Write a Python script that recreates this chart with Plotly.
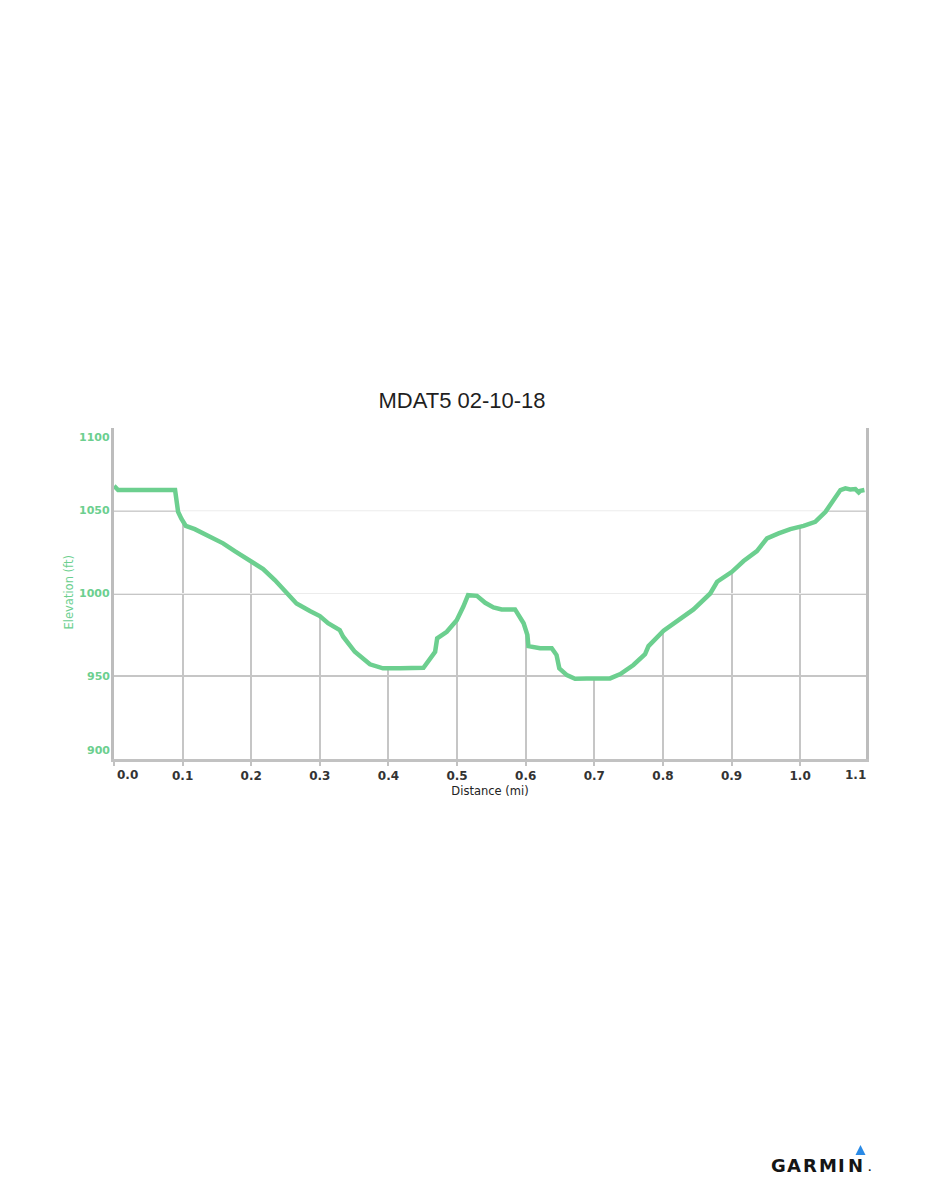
import plotly.graph_objects as go

# ---- data ----
DIST_MI = [0.000, 0.006, 0.089, 0.091, 0.0934, 0.098, 0.1046, 0.1177, 0.1396, 0.159,
           0.176, 0.2004, 0.2174, 0.2344, 0.2515, 0.266, 0.2855, 0.300, 0.312, 0.329,
           0.334, 0.351, 0.373, 0.392, 0.417, 0.451, 0.468, 0.471, 0.485, 0.4995,
           0.509, 0.516, 0.529, 0.541, 0.553, 0.565, 0.5845, 0.597, 0.6025, 0.604,
           0.621, 0.638, 0.645, 0.649, 0.660, 0.672, 0.689, 0.723, 0.738, 0.757,
           0.774, 0.779, 0.801, 0.828, 0.8446, 0.869, 0.879, 0.9006, 0.9176, 0.937,
           0.9517, 0.9686, 0.9857, 1.005, 1.022, 1.037, 1.049, 1.0587, 1.066, 1.073,
           1.0805, 1.0854, 1.0878, 1.0937]
ELEV_FT = [1065.0, 1062.5, 1062.5, 1057.4, 1049.4, 1045.4, 1040.9, 1038.9, 1034.3, 1030.3,
           1025.6, 1019.6, 1014.8, 1008.1, 1000.1, 994.0, 989.4, 986.4, 982.0, 977.9,
           973.9, 964.8, 957.2, 954.8, 954.8, 955.1, 964.8, 972.9, 976.9, 983.9,
           992.0, 999.0, 998.6, 994.4, 991.6, 990.4, 990.4, 982.0, 974.9, 968.2,
           966.9, 966.9, 962.8, 954.8, 950.7, 948.5, 948.7, 948.7, 951.3, 956.8,
           963.4, 968.2, 977.5, 985.0, 990.4, 1000.0, 1007.1, 1013.1, 1019.6, 1025.6,
           1033.3, 1036.3, 1038.9, 1040.9, 1043.3, 1049.4, 1056.4, 1062.5, 1063.5, 1062.9,
           1063.1, 1061.1, 1062.0, 1062.5]

TITLE = "MDAT5 02-10-18"
X_TITLE = "Distance (mi)"
Y_TITLE = "Elevation (ft)"
X_RANGE = [0, 1.096]
Y_RANGE = [900, 1100]
X_TICKS = [0.0, 0.1, 0.2, 0.3, 0.4, 0.5, 0.6, 0.7, 0.8, 0.9, 1.0]
X_TICK_TEXT = ["", "0.1", "0.2", "0.3", "0.4", "0.5", "0.6", "0.7", "0.8", "0.9", "1.0"]
Y_GRID = [950, 1000, 1050]
Y_LABELS = [900, 950, 1000, 1050, 1100]
FAINT_GRID_Y = [1000, 1050]

GREEN = "#6ccf8f"
GRID = "#c6c6c6"
FAINT = "#ececec"
TICK_FONT_X = dict(family="DejaVu Sans", size=12, color="#333333", weight="bold")
TICK_FONT_Y = dict(family="DejaVu Sans", size=11, color=GREEN, weight="bold")

fig = go.Figure()

# white mask above the profile (hides the grid above the curve)
fig.add_trace(go.Scatter(x=DIST_MI, y=[Y_RANGE[1]] * len(DIST_MI), mode="lines",
                         line=dict(width=0, color="white"), hoverinfo="skip"))
fig.add_trace(go.Scatter(x=DIST_MI, y=ELEV_FT, mode="lines", fill="tonexty",
                         fillcolor="white", line=dict(width=0, color="white"),
                         hoverinfo="skip"))

# faint horizontal grid over the masked area
gx, gy = [], []
for v in FAINT_GRID_Y:
    gx += [X_RANGE[0], X_RANGE[1], None]
    gy += [v, v, None]
fig.add_trace(go.Scatter(x=gx, y=gy, mode="lines", line=dict(width=1, color=FAINT),
                         hoverinfo="skip"))

# elevation profile
fig.add_trace(go.Scatter(x=DIST_MI, y=ELEV_FT, mode="lines",
                         line=dict(width=4.5, color=GREEN), hoverinfo="skip"))

W, H = 926, 1200
ML, MR, MT, MB = 114, 60, 428, 441
PW, PH = W - ML - MR, H - MT - MB


def px2paper(px, py):
    return (px - ML) / PW, (H - MB - py) / PH


fig.update_layout(
    width=W, height=H,
    margin=dict(l=ML, r=MR, t=MT, b=MB),
    paper_bgcolor="white", plot_bgcolor="white",
    showlegend=False,
    title=dict(text=TITLE, x=462 / W, xref="container", xanchor="center",
               y=1 - 400 / H, yref="container", yanchor="middle",
               font=dict(family="Liberation Sans", size=22, color="#1f1f1f")),
    xaxis=dict(range=X_RANGE, tickvals=X_TICKS, ticktext=X_TICK_TEXT,
               showgrid=True, gridcolor=GRID, gridwidth=1.5, zeroline=False,
               showline=True, linecolor="#c2c2c2", linewidth=3,
               ticks="outside", ticklen=4, tickcolor="#c2c2c2", tickwidth=1.5,
               tickfont=TICK_FONT_X,
               title=dict(text=X_TITLE, standoff=5,
                          font=dict(family="DejaVu Sans", size=11.5, color="#222222")),
               fixedrange=True),
    yaxis=dict(range=Y_RANGE, tickvals=Y_GRID, showticklabels=False,
               showgrid=True, gridcolor=GRID, gridwidth=1.5, zeroline=False,
               showline=True, mirror=True, linecolor="#bdbdbd", linewidth=2.5,
               ticks="", fixedrange=True),
)

ann = []
# y-axis title
px, py = px2paper(68.5, 593)
ann.append(dict(text=Y_TITLE, x=px, y=py, xref="paper", yref="paper", textangle=-90,
                xanchor="center", yanchor="middle", showarrow=False,
                font=dict(family="DejaVu Sans", size=11.5, color=GREEN)))
# edge x tick labels pulled inside like the original
ann.append(dict(text="0.0", x=X_RANGE[0], xref="x", xanchor="left", xshift=1,
                y=0, yref="paper", yanchor="middle", yshift=-16, showarrow=False,
                font=TICK_FONT_X))
ann.append(dict(text="1.1", x=X_RANGE[1], xref="x", xanchor="right", xshift=2,
                y=0, yref="paper", yanchor="middle", yshift=-16, showarrow=False,
                font=TICK_FONT_X))
# y tick labels (end labels pulled inside)
for v in Y_LABELS:
    if v == Y_RANGE[1]:
        anchor, shift = "top", -1
    elif v == Y_RANGE[0]:
        anchor, shift = "bottom", 0
    else:
        anchor, shift = "middle", 0
    ann.append(dict(text=str(v), x=0, xref="paper", xanchor="right", xshift=-2,
                    y=v, yref="y", yanchor=anchor, yshift=shift, showarrow=False,
                    font=TICK_FONT_Y))

# GARMIN logo as text + triangle mark
LOGO_LETTERS = ["G", "A", "R", "M", "I", "N"]
LOGO_CX = [778, 793.5, 810, 827.5, 841.5, 855]
for ch, cx in zip(LOGO_LETTERS, LOGO_CX):
    px, py = px2paper(cx, 1165)
    ann.append(dict(text=ch, x=px, y=py, xref="paper", yref="paper",
                    xanchor="center", yanchor="middle", showarrow=False,
                    font=dict(family="DejaVu Sans", size=18, color="#151515", weight="bold")))
px, py = px2paper(869, 1168)
ann.append(dict(text=".", x=px, y=py, xref="paper", yref="paper", xanchor="center",
                yanchor="middle", showarrow=False,
                font=dict(family="DejaVu Sans", size=9, color="#151515", weight="bold")))
fig.update_layout(annotations=ann)

tri = [px2paper(855.5, 1155), px2paper(865.5, 1155), px2paper(860.5, 1145)]
path = "M {0[0]},{0[1]} L {1[0]},{1[1]} L {2[0]},{2[1]} Z".format(*tri)
fig.add_shape(type="path", path=path, xref="paper", yref="paper",
              fillcolor="#2a8ae6", line=dict(width=0), layer="above")

fig.write_html("out.html", config={"displayModeBar": False},
               post_script="document.body.style.margin='0px';")
